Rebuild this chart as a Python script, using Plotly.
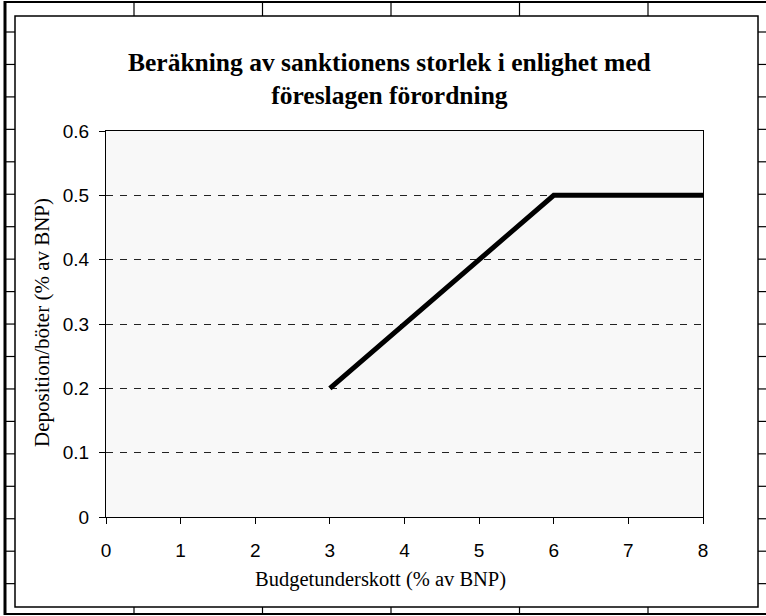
import plotly.graph_objects as go

# ---- data ----
deficit = [3, 4, 5, 6, 7, 8]            # Budgetunderskott (% av BNP)
deposit = [0.2, 0.3, 0.4, 0.5, 0.5, 0.5]  # Deposition/böter (% av BNP)
x_ticks = [0, 1, 2, 3, 4, 5, 6, 7, 8]
y_ticks = [0, 0.1, 0.2, 0.3, 0.4, 0.5, 0.6]
y_labels = ["0", "0.1", "0.2", "0.3", "0.4", "0.5", "0.6"]

title_text = "Beräkning av sanktionens storlek i enlighet med<br>föreslagen förordning"
x_title = "Budgetunderskott (% av BNP)"
y_title = "Deposition/böter (% av BNP)"

# ---- layout geometry (pixels) ----
W, H = 766, 616
L, R, T, B = 106, 63, 131, 99
PW, PH = W - L - R, H - T - B


def px(x):
    return (x - L) / PW


def py(y):
    return (H - B - y) / PH


fig = go.Figure()
fig.add_trace(go.Scatter(
    x=deficit, y=deposit, mode="lines",
    line=dict(color="black", width=5),
    showlegend=False, hoverinfo="x+y",
))

serif = "Liberation Serif, Times New Roman, serif"
sans = "Liberation Sans, Arial, sans-serif"

shapes = []
line_c = "black"
# chart border
shapes.append(dict(type="rect", xref="paper", yref="paper",
                   x0=px(15), x1=px(758), y0=py(16), y1=py(607),
                   line=dict(color=line_c, width=1.5), layer="below"))
# outer spreadsheet frame
shapes.append(dict(type="line", xref="paper", yref="paper",
                   x0=px(5), x1=px(5), y0=py(1), y1=py(615),
                   line=dict(color=line_c, width=3)))
shapes.append(dict(type="line", xref="paper", yref="paper",
                   x0=px(4), x1=px(766), y0=py(2), y1=py(2),
                   line=dict(color=line_c, width=2)))
shapes.append(dict(type="line", xref="paper", yref="paper",
                   x0=px(4), x1=px(766), y0=py(614), y1=py(614),
                   line=dict(color=line_c, width=2)))
# row marks left / right
for k in range(18):
    yy = 32 + 32.45 * k
    shapes.append(dict(type="line", xref="paper", yref="paper",
                       x0=px(5), x1=px(15), y0=py(yy), y1=py(yy),
                       line=dict(color=line_c, width=1.2)))
    shapes.append(dict(type="line", xref="paper", yref="paper",
                       x0=px(758), x1=px(766), y0=py(yy), y1=py(yy),
                       line=dict(color=line_c, width=1.2)))
# column marks top / bottom
for k in range(5):
    xx = 134 + 128.5 * k
    shapes.append(dict(type="line", xref="paper", yref="paper",
                       x0=px(xx), x1=px(xx), y0=py(2), y1=py(16),
                       line=dict(color=line_c, width=1.2)))
    shapes.append(dict(type="line", xref="paper", yref="paper",
                       x0=px(xx), x1=px(xx), y0=py(607), y1=py(614),
                       line=dict(color=line_c, width=1.2)))

annotations = [
    dict(text="<b>" + title_text + "</b>", xref="paper", yref="paper",
         x=px(389), y=py(79), xanchor="center", yanchor="middle",
         showarrow=False, font=dict(family=serif, size=25.5, color="black")),
    dict(text=x_title, xref="paper", yref="paper",
         x=px(380), y=py(579), xanchor="center", yanchor="middle",
         showarrow=False, font=dict(family=serif, size=20.5, color="black")),
    dict(text=y_title, xref="paper", yref="paper", textangle=-90,
         x=px(42), y=py(323), xanchor="center", yanchor="middle",
         showarrow=False, font=dict(family=serif, size=21, color="black")),
]

fig.update_layout(
    width=W, height=H,
    margin=dict(l=L, r=R, t=T, b=B, pad=0),
    paper_bgcolor="white",
    plot_bgcolor="#f8f8f8",
    shapes=shapes,
    annotations=annotations,
    showlegend=False,
)
fig.update_xaxes(
    range=[0, 8], tickvals=x_ticks, ticks="outside", ticklen=6,
    tickcolor="black", tickwidth=1, showline=True, mirror=True,
    linecolor="black", linewidth=1.2, showgrid=False, zeroline=False,
    tickfont=dict(family=sans, size=19, color="black"),
    ticklabelstandoff=10,
)
fig.update_yaxes(
    range=[0, 0.6], tickvals=y_ticks, ticktext=y_labels, ticks="outside",
    ticklen=6, tickcolor="black", tickwidth=1, showline=True, mirror=True,
    linecolor="black", linewidth=1.2, showgrid=True, gridcolor="#222",
    gridwidth=1, griddash="7px,7px", zeroline=False,
    tickfont=dict(family=sans, size=19, color="black"),
    ticklabelstandoff=6,
)

fig.write_html(
    "out.html",
    config={"displayModeBar": False},
    post_script="document.body.style.margin='0px';document.body.style.overflow='hidden';",
)
